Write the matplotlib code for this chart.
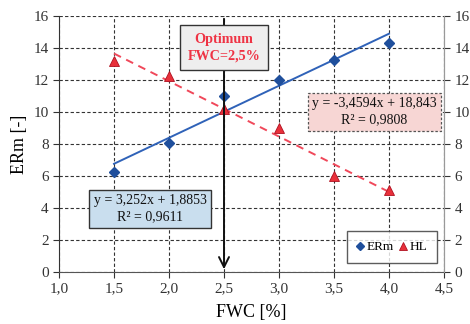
import matplotlib
matplotlib.use("Agg")
import matplotlib.pyplot as plt
import numpy as np

fwc = [1.5, 2.0, 2.5, 3.0, 3.5, 4.0]
erm = [6.25, 8.06, 11.0, 12.0, 13.25, 14.33]
hl = [13.2, 12.25, 10.2, 9.0, 6.0, 5.1]
erm_fit = (3.252, 1.8853)
hl_fit = (-3.4594, 18.843)
xticks = [1.0, 1.5, 2.0, 2.5, 3.0, 3.5, 4.0, 4.5]
yticks = [0, 2, 4, 6, 8, 10, 12, 14, 16]

plt.rcParams['font.family'] = ['Liberation Serif', 'DejaVu Serif']

fig = plt.figure(figsize=(4.70, 3.24), dpi=100)
ax = fig.add_axes([59/470, 1 - 272/324, (444-59)/470, (272-16)/324])

ax.set_xlim(1.0, 4.5)
ax.set_ylim(0, 16)
ax.set_xticks(xticks)
ax.set_xticklabels([f"{v:.1f}".replace('.', ',') for v in xticks])
ax.set_yticks(yticks)
ax.grid(True, color='#333333', linestyle=(0, (3, 2)), linewidth=0.8)
ax.set_axisbelow(True)

ax.spines['top'].set_visible(False)
ax.spines['right'].set_color('#999999')
ax.spines['left'].set_color('#333333')
ax.spines['bottom'].set_color('#555555')
ax.tick_params(labelsize=11, direction='out', length=4, colors='#333333')

xs = np.array([fwc[0], fwc[-1]])
ax.plot(xs, erm_fit[0]*xs + erm_fit[1], color='#2f62b8', lw=1.4, zorder=3)
ax.plot(xs, hl_fit[0]*xs + hl_fit[1], color='#f0485a', lw=1.4, ls=(0, (4, 3)), zorder=3)

ax.plot(fwc, erm, ls='none', marker='D', ms=5, color='#1f4f9c', label='ERm', zorder=4)
ax.plot(fwc, hl, ls='none', marker='^', ms=7, color='#e8303a', mec='#b01020', mew=0.6, label='HL', zorder=4)

ax2 = ax.twinx()
ax2.set_ylim(0, 16)
ax2.set_yticks(yticks)
ax2.tick_params(labelsize=11, direction='out', length=4, colors='#333333')
for s in ['top', 'left', 'bottom']:
    ax2.spines[s].set_visible(False)
ax2.spines['right'].set_color('#999999')

ax.set_xlabel('FWC [%]', fontsize=13, labelpad=6)
ax.set_ylabel('ERm [-]', fontsize=13, labelpad=4)

# vertical arrow
ax.annotate('', xy=(2.5, 0), xytext=(2.5, 16),
            arrowprops=dict(arrowstyle='->', color='#111111', lw=1.4, mutation_scale=18),
            zorder=5)

ax.text(2.5, 14.03, 'Optimum\nFWC=2,5%', ha='center', va='center', fontsize=10.2,
        fontweight='bold', color='#ee3344', linespacing=1.35,
        bbox=dict(boxstyle='square,pad=0.55', fc='#eeeeee', ec='#333333', lw=1.0), zorder=6)

ax.text((150-59)/110 + 1.0, 3.94, 'y = 3,252x + 1,8853\nR² = 0,9611', ha='center', va='center',
        fontsize=10, color='#111111', linespacing=1.3,
        bbox=dict(boxstyle='square,pad=0.3', fc='#c9deee', ec='#333333', lw=1.0), zorder=6)

ax.text((374.5-59)/110 + 1.0, 10.0, 'y = -3,4594x + 18,843\nR² = 0,9808', ha='center', va='center',
        fontsize=10, color='#111111', linespacing=1.3,
        bbox=dict(boxstyle='square,pad=0.3', fc='#f7d6d4', ec='#555555', lw=0.9, ls=(0, (2, 1.5))), zorder=6)

leg = ax.legend(loc='lower right', bbox_to_anchor=(0.982, 0.035), borderaxespad=0, ncol=2, fontsize=9.5,
                frameon=True, fancybox=False, edgecolor='#333333', handlelength=0.5,
                handletextpad=0.2, columnspacing=0.5, borderpad=0.75,
                markerscale=0.85)
leg.get_frame().set_linewidth(1.0)
leg.set_zorder(7)

fig.savefig('out.png', dpi=100)
